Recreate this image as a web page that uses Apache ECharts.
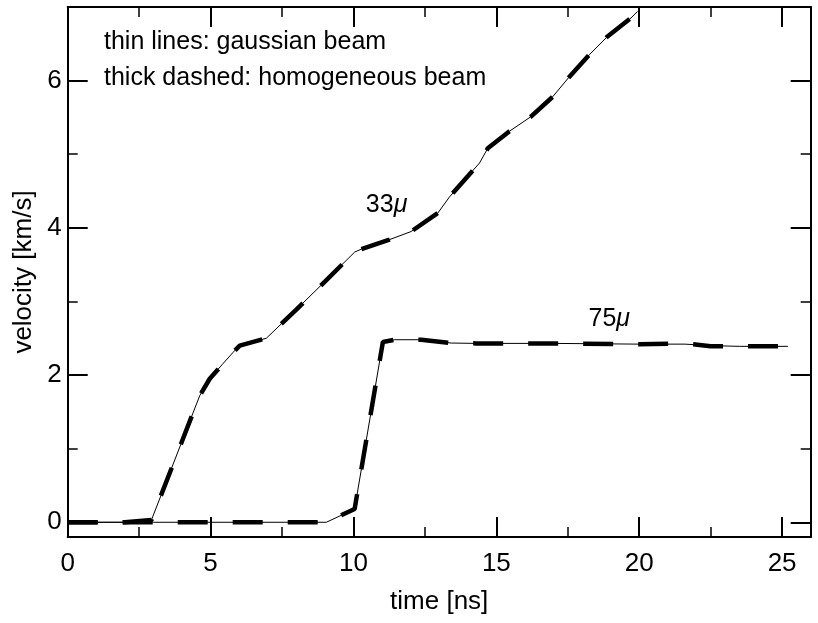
<!DOCTYPE html>
<html>
<head>
<meta charset="utf-8">
<script src="https://cdn.jsdelivr.net/npm/echarts@6/dist/echarts.min.js"></script>
<style>
html,body{margin:0;padding:0;background:#fff;}
#chart{width:818px;height:623px;}
</style>
</head>
<body>
<div id="chart"></div>
<script>
// ---- data (time in ns, velocity in km/s) ----
const time33  = [0, 1, 2, 2.93, 4, 4.62, 4.97, 5.4, 5.79, 6.02, 6.95, 8, 9, 10.04, 10.27, 11.26, 12.02, 12.95, 13.36, 14.0, 14.41, 14.7, 15.45, 16.21, 16.97, 17.55, 18.25, 18.89, 19.71, 19.94];
const gauss33 = [0, 0, 0, 0.03, 1.1, 1.72, 1.95, 2.14, 2.31, 2.40, 2.50, 2.89, 3.27, 3.67, 3.71, 3.84, 3.95, 4.20, 4.42, 4.70, 4.88, 5.08, 5.31, 5.51, 5.78, 6.05, 6.35, 6.60, 6.85, 6.94];
const homog33 = [0, 0, 0, 0.03, 1.1, 1.72, 1.95, 2.14, 2.31, 2.40, 2.50, 2.89, 3.27, 3.67, 3.71, 3.84, 3.95, 4.20, 4.42, 4.70, 4.88, 5.08, 5.31, 5.51, 5.78, 6.05, 6.35, 6.60, 6.85, 6.94];

const time75  = [0, 3, 9.05, 10.04, 11.03, 11.44, 12.37, 13.42, 14.29, 17, 20, 21.6, 22.5, 23.5, 25.2];
const gauss75 = [0, 0, 0, 0.18, 2.45, 2.48, 2.48, 2.435, 2.43, 2.43, 2.42, 2.42, 2.40, 2.39, 2.39];
const homog75 = [0, 0, 0, 0.18, 2.45, 2.48, 2.48, 2.435, 2.43, 2.43, 2.42, 2.43, 2.39, 2.39, 2.39];

const xMin = 0, xMax = 26, yMin = -0.2, yMax = 7;
const xMajorStep = 5, xMinorStep = 2.5;
const curveLabels = [
  {text: '33', coord: [11.16, 4.31]},
  {text: '75', coord: [18.95, 2.76]}
];
const notes = ['thin lines: gaussian beam', 'thick dashed: homogeneous beam'];

const pair = (xs, ys) => xs.map((x, i) => [x, ys[i]]);
const FONT = 'Liberation Sans, Arial, Helvetica, sans-serif';

const xFmt = v => (Math.abs(v % 5) < 1e-9 ? String(v) : '');
const yFmt = v => (Math.abs(v - Math.round(v)) < 1e-9 && Math.round(v) % 2 === 0 ? String(Math.round(v)) : '');

function xAxisDef(pos, major, withLabels) {
  return {
    type: 'value', position: pos, min: xMin, max: xMax,
    interval: major ? xMajorStep : xMinorStep,
    axisLine: {show: major, onZero: false, lineStyle: {color: '#000', width: 2}},
    axisTick: {show: true, inside: true, length: major ? 20 : 10, lineStyle: {color: '#000', width: major ? 2 : 1.5}},
    axisLabel: {show: withLabels, formatter: xFmt, color: '#000', fontSize: 26, fontFamily: FONT, margin: 14},
    splitLine: {show: false},
    name: withLabels ? 'time [ns]' : '', nameLocation: 'middle', nameGap: 52,
    nameTextStyle: {color: '#000', fontSize: 26, fontFamily: FONT}
  };
}
function yAxisDef(pos, major, withLabels) {
  return {
    type: 'value', position: pos, min: yMin, max: yMax,
    splitNumber: major ? 4 : 7,
    axisLine: {show: major, onZero: false, lineStyle: {color: '#000', width: 2}},
    axisTick: {show: true, inside: true, length: major ? 20 : 10, lineStyle: {color: '#000', width: major ? 2 : 1.5}},
    axisLabel: {show: withLabels, formatter: yFmt, color: '#000', fontSize: 26, fontFamily: FONT, margin: 6},
    splitLine: {show: false},
    name: withLabels ? 'velocity [km/s]' : '', nameLocation: 'middle', nameGap: 28, nameRotate: 90,
    nameTextStyle: {color: '#000', fontSize: 26, fontFamily: FONT}
  };
}

const thin = {color: '#000', width: 1};
const thick = {color: '#000', width: 4.5, type: [30, 25], dashOffset: 0};

function labelPoint(lbl) {
  return {
    symbol: 'circle', symbolSize: 0, silent: true,
    data: [{coord: lbl.coord, value: 0}],
    label: {
      show: true, position: 'inside',
      formatter: '{a|' + lbl.text + '}{b|μ}',
      rich: {
        a: {fontSize: 25, fontFamily: FONT, color: '#000'},
        b: {fontSize: 25, fontFamily: FONT, fontStyle: 'italic', color: '#000'}
      }
    }
  };
}

const chart = echarts.init(document.getElementById('chart'), null, {renderer: 'canvas'});
chart.setOption({
  animation: false,
  backgroundColor: '#fff',
  grid: {left: 67.7, right: 7.3, top: 7, bottom: 86, containLabel: false},
  xAxis: [
    xAxisDef('bottom', true, true),
    xAxisDef('bottom', false, false),
    xAxisDef('top', true, false),
    xAxisDef('top', false, false)
  ],
  yAxis: [
    yAxisDef('left', true, true),
    yAxisDef('left', false, false),
    yAxisDef('right', true, false),
    yAxisDef('right', false, false)
  ],
  series: [
    {type: 'line', data: pair(time33, gauss33), symbol: 'none', lineStyle: thin, z: 3, markPoint: labelPoint(curveLabels[0])},
    {type: 'line', data: pair(time33, homog33), symbol: 'none', lineStyle: thick, z: 2},
    {type: 'line', data: pair(time75, gauss75), symbol: 'none', lineStyle: thin, z: 3, markPoint: labelPoint(curveLabels[1])},
    {type: 'line', data: pair(time75, homog75), symbol: 'none', lineStyle: thick, z: 2}
  ],
  graphic: notes.map((t, i) => ({
    type: 'text', left: 104, top: 30 + i * 36,
    style: {text: t, fontSize: 25, fontFamily: FONT, fill: '#000'}
  }))
});
</script>
</body>
</html>
